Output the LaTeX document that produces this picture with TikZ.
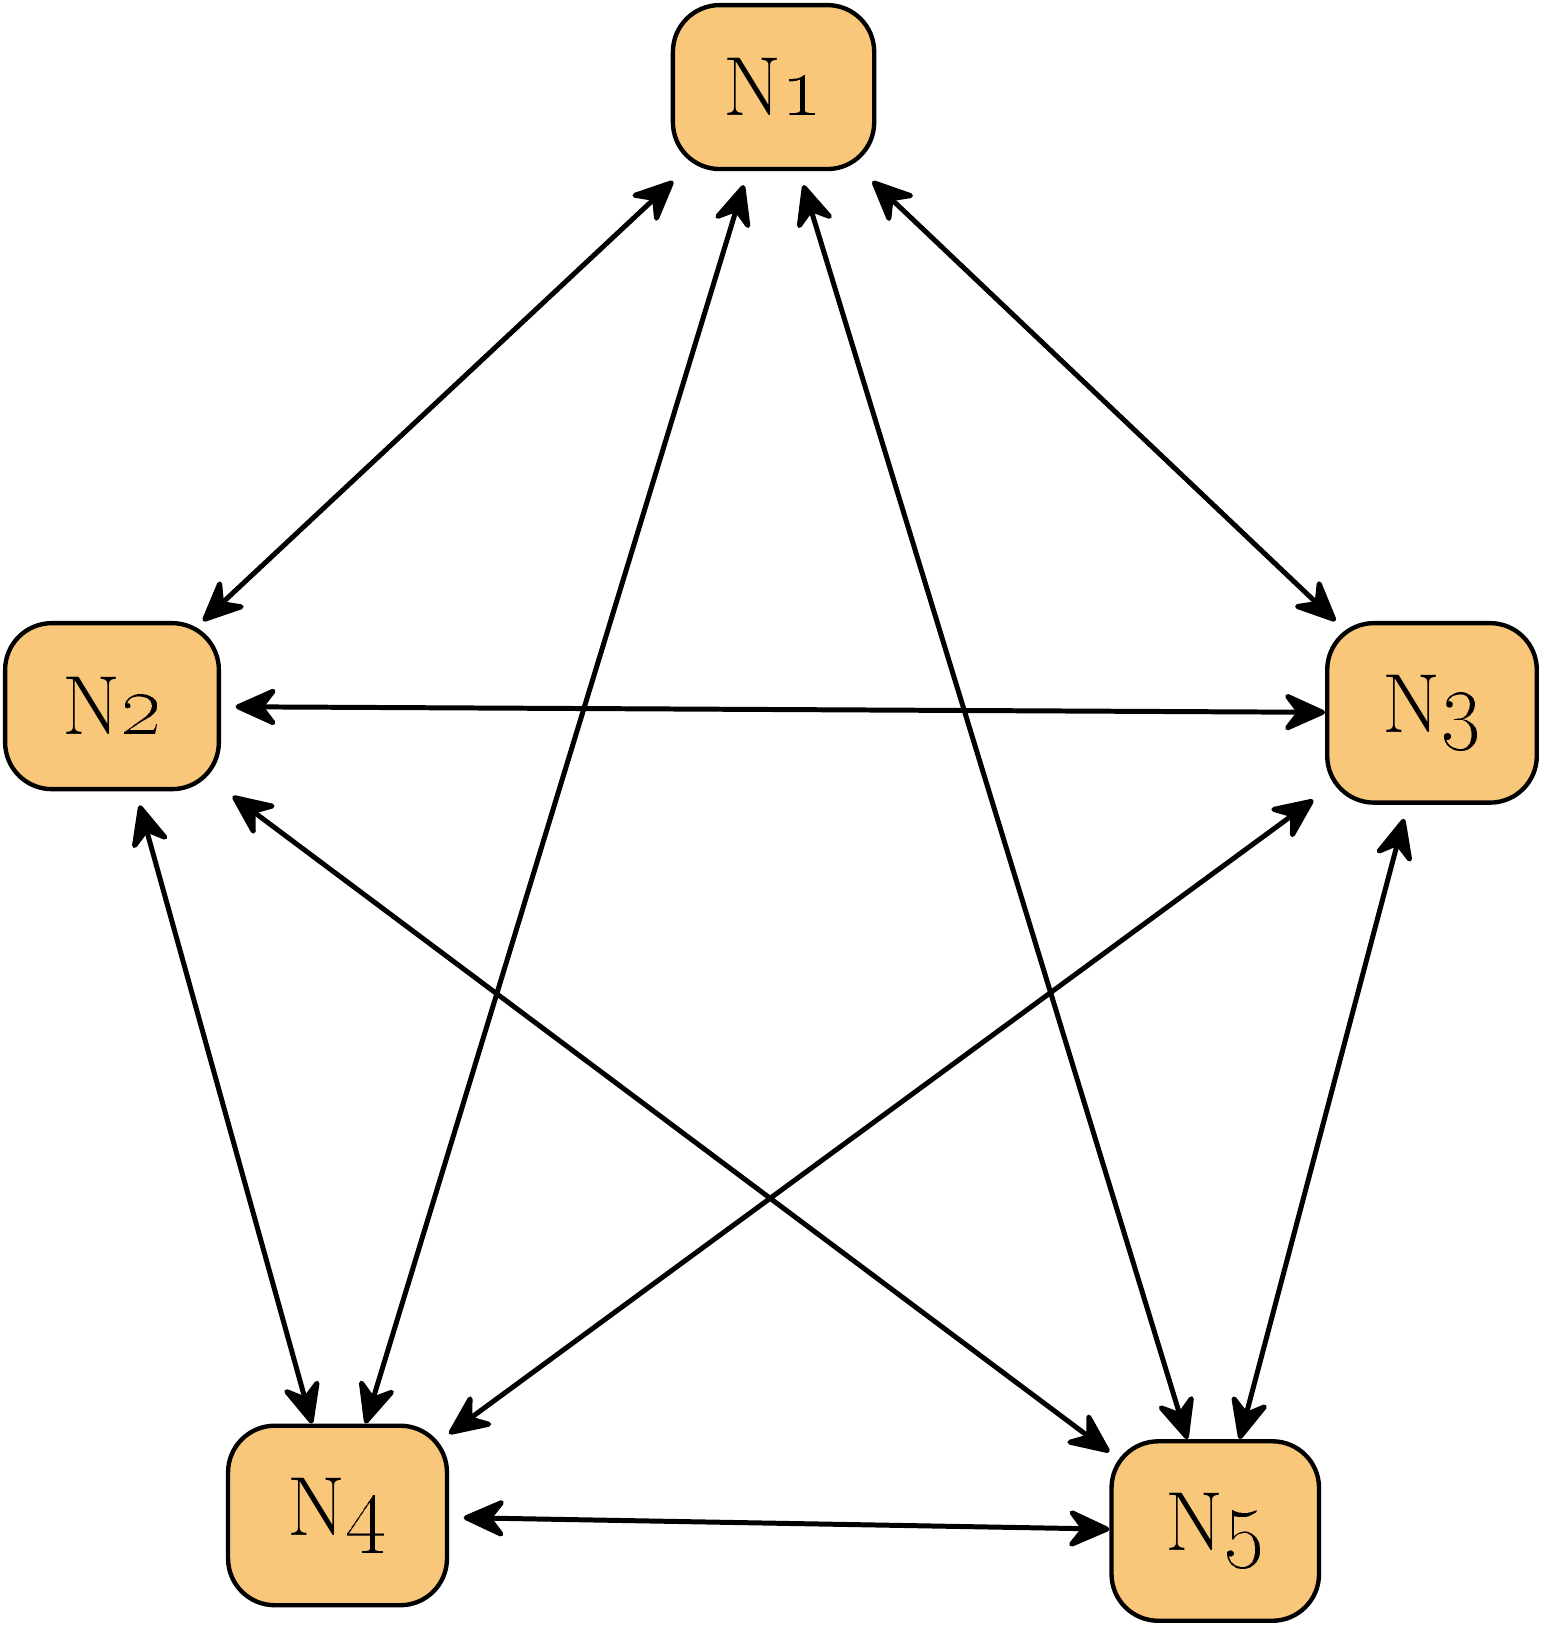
\documentclass[tikz,border=0pt]{standalone}
\usepackage{tikz}
\usetikzlibrary{arrows.meta}
\definecolor{boxfill}{RGB}{249,199,122}

\begin{document}
\begin{tikzpicture}[x=0.01cm,y=-0.01cm,
  >={Stealth[round,length=0.47cm,width=0.42cm,inset=0.16cm]},
  netnode/.style={draw,line width=0.042cm,rounded corners=0.45cm,fill=boxfill,
    font=\fontsize{23}{27}\selectfont,inner sep=0pt},
  link/.style={<->,line width=0.048cm,shorten <=0.14cm}]
  \useasboundingbox (0,0) rectangle (1490,1571);

  %% Building the boxes of the network
  \foreach \n/\x/\y/\w/\h in {1/746/84/1.94/1.58, 2/108/681/2.06/1.60, 3/1381/687.5/2.02/1.73,
                              4/325.5/1461.5/2.11/1.73, 5/1172/1476.5/2.00/1.73}
  {
    \node[netnode,minimum width=\w cm,minimum height=\h cm] (N\n) at (\x,\y) {N\oldstylenums{\n}};
  }

  %% Drawing the links between the boxes
  \foreach \a/\b in {1/2,1/4,1/5,1/3,2/3,2/5,2/4,3/4,3/5,4/5}
  {
    \draw[link] (N\a) -- (N\b);
  }
\end{tikzpicture}
\end{document}
